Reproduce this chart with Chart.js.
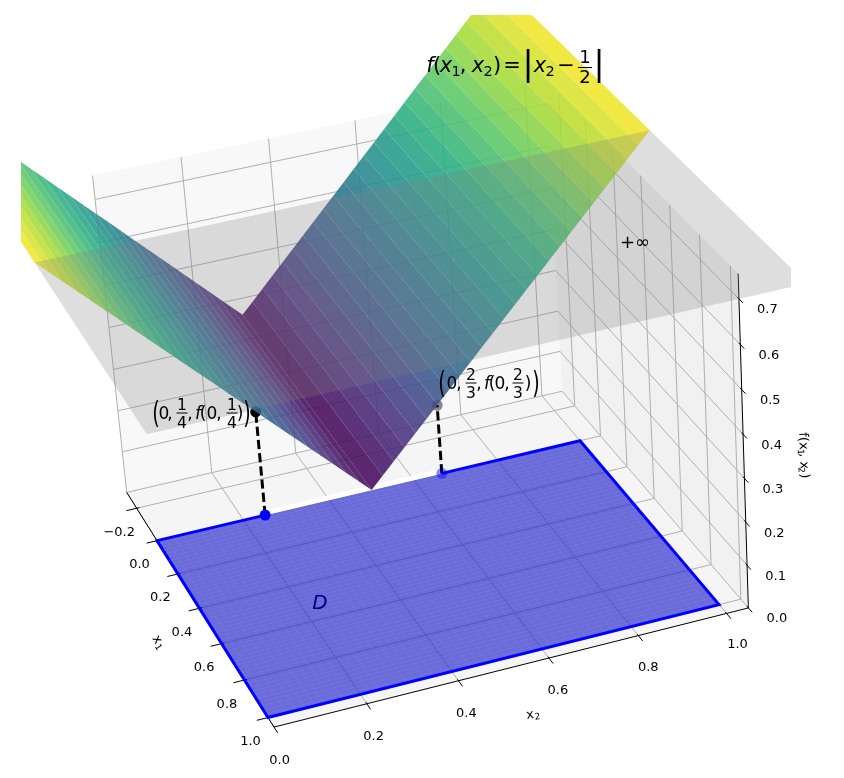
<!DOCTYPE html>
<html>
<head>
<meta charset="utf-8">
<style>
  html, body { margin: 0; padding: 0; background: #fff; }
  canvas { display: block; }
</style>
<script src="https://cdn.jsdelivr.net/npm/chart.js@4/dist/chart.umd.js"></script>
</head>
<body>
<canvas id="chart" width="844" height="778"></canvas>
<script>
// axis ticks
var x1Ticks = [-0.2, 0, 0.2, 0.4, 0.6, 0.8, 1];
var x2Ticks = [0, 0.2, 0.4, 0.6, 0.8, 1];
var zTicks = [0, 0.1, 0.2, 0.3, 0.4, 0.5, 0.6, 0.7];
var x1TickLabels = ['\u22120.2', '0.0', '0.2', '0.4', '0.6', '0.8', '1.0'];
var x2TickLabels = ['0.0', '0.2', '0.4', '0.6', '0.8', '1.0'];
var zTickLabels = ['0.0', '0.1', '0.2', '0.3', '0.4', '0.5', '0.6', '0.7'];
var x1Lim = [-0.3, 1.05];
var x2Lim = [0, 1.05];
var zLim = [0, 0.755];

// surface f(x1,x2), read along x2, spanning x1 from -1.2 to 0
var surfaceX1 = [-1.2, -1.176, -1.152, -1.128, -1.104, -1.08, -1.056, -1.032, -1.008, -0.984, -0.96, -0.936, -0.912, -0.888, -0.864, -0.84, -0.816, -0.792, -0.768, -0.744, -0.72, -0.696, -0.672, -0.648, -0.624, -0.6, -0.576, -0.552, -0.528, -0.504, -0.48, -0.456, -0.432, -0.408, -0.384, -0.36, -0.336, -0.312, -0.288, -0.264, -0.24, -0.216, -0.192, -0.168, -0.144, -0.12, -0.096, -0.072, -0.048, -0.024, 0];
var surfaceX2 = [-0.2, -0.172, -0.144, -0.116, -0.088, -0.06, -0.032, -0.004, 0.024, 0.052, 0.08, 0.108, 0.136, 0.164, 0.192, 0.22, 0.248, 0.276, 0.304, 0.332, 0.36, 0.388, 0.416, 0.444, 0.472, 0.5, 0.528, 0.556, 0.584, 0.612, 0.64, 0.668, 0.696, 0.724, 0.752, 0.78, 0.808, 0.836, 0.864, 0.892, 0.92, 0.948, 0.976, 1.004, 1.032, 1.06, 1.088, 1.116, 1.144, 1.172, 1.2];
var surfaceZ = [0.7, 0.672, 0.644, 0.616, 0.588, 0.56, 0.532, 0.504, 0.476, 0.448, 0.42, 0.392, 0.364, 0.336, 0.308, 0.28, 0.252, 0.224, 0.196, 0.168, 0.14, 0.112, 0.084, 0.056, 0.028, 0, 0.028, 0.056, 0.084, 0.112, 0.14, 0.168, 0.196, 0.224, 0.252, 0.28, 0.308, 0.336, 0.364, 0.392, 0.42, 0.448, 0.476, 0.504, 0.532, 0.56, 0.588, 0.616, 0.644, 0.672, 0.7];

// the grey "+inf" plane
var planeX1 = [0, 1.05];
var planeX2 = [-0.2, 1.2];
var planeZ = 0.7;

// domain D on the floor
var domainX1 = [0, 1];
var domainX2 = [0, 1];
var domainMesh = [0, 0.02, 0.04, 0.06, 0.08, 0.1, 0.12, 0.14, 0.16, 0.18, 0.2, 0.22, 0.24, 0.26, 0.28, 0.3, 0.32, 0.34, 0.36, 0.38, 0.4, 0.42, 0.44, 0.46, 0.48, 0.5, 0.52, 0.54, 0.56, 0.58, 0.6, 0.62, 0.64, 0.66, 0.68, 0.7, 0.72, 0.74, 0.76, 0.78, 0.8, 0.82, 0.84, 0.86, 0.88, 0.9, 0.92, 0.94, 0.96, 0.98, 1];

// the two marked points
var markX2 = [0.25, 0.6667];
var markZ = [0.25, 0.1667];

var viridis = [[68,1,84],[71,45,123],[59,82,139],[44,114,142],[33,145,140],[40,174,128],[94,201,98],[173,220,48],[253,231,37]];

// camera fitted on the picture: (x1, x2, z, 1) -> screen
var camX = [91.88, 440.46, -51.08, 157];
var camY = [125.76, -86.73, -438.1, 541];
var camW = [-0.07136, 0.0301, -0.05167, 1];

function project(x1, x2, z) {
    var w = camW[0]*x1 + camW[1]*x2 + camW[2]*z + camW[3];
    return {
        x: (camX[0]*x1 + camX[1]*x2 + camX[2]*z + camX[3]) / w,
        y: (camY[0]*x1 + camY[1]*x2 + camY[2]*z + camY[3]) / w
    };
}

function viridisAt(t, alpha) {
    var p = Math.max(0, Math.min(1, t)) * (viridis.length - 1);
    var i = Math.min(viridis.length - 2, Math.floor(p));
    var f = p - i;
    var c = [0, 1, 2].map(function(k) { return Math.round(viridis[i][k] + (viridis[i+1][k] - viridis[i][k]) * f); });
    return 'rgba(' + c[0] + ',' + c[1] + ',' + c[2] + ',' + alpha + ')';
}

var datasets = [];

function polygon(corners, color) {
    datasets.push({
        data: corners.map(function(c) { return project(c[0], c[1], c[2]); }),
        showLine: true, fill: 'shape', backgroundColor: color,
        borderWidth: 0, borderColor: 'rgba(0,0,0,0)', pointRadius: 0
    });
}
function line(pts, color, width, dash) {
    datasets.push({
        data: pts.map(function(c) { return project(c[0], c[1], c[2]); }),
        showLine: true, fill: false, borderColor: color, borderWidth: width,
        borderDash: dash || [], borderCapStyle: 'butt', pointRadius: 0
    });
}
function dot(pt, color) {
    datasets.push({
        data: [project(pt[0], pt[1], pt[2])],
        showLine: false, pointRadius: 5.5, pointBorderWidth: 0, pointBackgroundColor: color
    });
}

// panes
polygon([[x1Lim[0],x2Lim[0],0],[x1Lim[0],x2Lim[1],0],[x1Lim[0],x2Lim[1],zLim[1]],[x1Lim[0],x2Lim[0],zLim[1]]], 'rgb(248,248,248)');
polygon([[x1Lim[0],x2Lim[1],0],[x1Lim[1],x2Lim[1],0],[x1Lim[1],x2Lim[1],zLim[1]],[x1Lim[0],x2Lim[1],zLim[1]]], 'rgb(241,241,241)');
polygon([[x1Lim[0],x2Lim[0],0],[x1Lim[1],x2Lim[0],0],[x1Lim[1],x2Lim[1],0],[x1Lim[0],x2Lim[1],0]], 'rgb(245,245,245)');

// grid
var gridColor = 'rgb(176,176,176)';
x1Ticks.forEach(function(v) {
    line([[v,x2Lim[0],0],[v,x2Lim[1],0],[v,x2Lim[1],zLim[1]]], gridColor, 1);
});
x2Ticks.forEach(function(v) {
    line([[x1Lim[1],v,0],[x1Lim[0],v,0],[x1Lim[0],v,zLim[1]]], gridColor, 1);
});
zTicks.forEach(function(v) {
    line([[x1Lim[0],x2Lim[0],v],[x1Lim[0],x2Lim[1],v],[x1Lim[1],x2Lim[1],v]], gridColor, 1);
});

// axis lines and tick marks
line([[x1Lim[0],x2Lim[0],0],[x1Lim[1],x2Lim[0],0],[x1Lim[1],x2Lim[1],0],[x1Lim[1],x2Lim[1],zLim[1]]], '#000', 1);
x1Ticks.forEach(function(v) { line([[v,-0.024,0],[v,0.006,0]], '#000', 1); });
x2Ticks.forEach(function(v) { line([[1.042,v,0],[1.08,v,0]], '#000', 1); });
zTicks.forEach(function(v) { line([[1.04,x2Lim[1],v],[1.075,x2Lim[1],v]], '#000', 1); });

// domain D
polygon([[domainX1[0],domainX2[0],0],[domainX1[1],domainX2[0],0],[domainX1[1],domainX2[1],0],[domainX1[0],domainX2[1],0]], 'rgba(0,0,195,0.57)');
domainMesh.forEach(function(v) {
    line([[v,0,0],[v,1,0]], 'rgba(255,255,255,0.1)', 0.6);
    line([[0,v,0],[1,v,0]], 'rgba(255,255,255,0.1)', 0.6);
});
line([[-0.012,markX2[0],0],[-0.012,markX2[1],0]], '#fff', 5);
line([[0,markX2[0],0],[0,0,0],[1,0,0],[1,1,0],[0,1,0],[0,markX2[1],0]], 'rgb(0,0,255)', 3);

// drop lines and points
line([[0,markX2[0],0],[0,markX2[0],markZ[0]]], '#000', 3, [9.25,4]);
line([[0,markX2[1],0],[0,markX2[1],markZ[1]]], '#000', 3, [9.25,4]);
dot([0,markX2[0],0], 'rgb(0,0,255)');
dot([0,markX2[1],0], 'rgba(0,0,255,0.45)');
dot([0,markX2[0],markZ[0]], '#000');
dot([0,markX2[1],markZ[1]], 'rgba(0,0,0,0.45)');

// surface, one polygon per band
for (var i = 0; i < surfaceX2.length - 1; i++) {
    polygon([
        [surfaceX1[0], surfaceX2[i], surfaceZ[i]],
        [surfaceX1[surfaceX1.length-1], surfaceX2[i], surfaceZ[i]],
        [surfaceX1[surfaceX1.length-1], surfaceX2[i+1], surfaceZ[i+1]],
        [surfaceX1[0], surfaceX2[i+1], surfaceZ[i+1]]
    ], viridisAt((surfaceZ[i] + surfaceZ[i+1]) / 2 / 0.7, 0.87));
}
surfaceX1.forEach(function(v) {
    line(surfaceX2.map(function(x2, k) { return [v, x2, surfaceZ[k]]; }), 'rgba(255,255,255,0.05)', 0.6);
});

// grey plane, over everything below it
polygon([[planeX1[0],planeX2[0],planeZ],[planeX1[1],planeX2[0],planeZ],[planeX1[1],planeX2[1],planeZ],[planeX1[0],planeX2[1],planeZ]], 'rgba(128,128,128,0.26)');

// first dataset ends up on top in chart.js, so flip
datasets.reverse();

var SANS = '"DejaVu Sans"';
function put(ctx, txt, x, y, size, italic, align) {
    ctx.font = (italic ? 'italic ' : '') + size + 'px ' + SANS;
    ctx.textAlign = align || 'center';
    ctx.fillText(txt, x, y);
}
function frac(ctx, num, den, cx, barY, size, w, gapUp, gapDown) {
    put(ctx, num, cx, barY - gapUp, size);
    put(ctx, den, cx, barY + gapDown, size);
    ctx.fillRect(cx - w / 2, barY - 0.5, w, 1);
}

var textPlugin = {
    id: 'labels3d',
    afterDraw: function(chart) {
        var ctx = chart.ctx, sx = chart.scales.x, sy = chart.scales.y;
        function pos(x1, x2, z) {
            var p = project(x1, x2, z);
            return { x: sx.getPixelForValue(p.x), y: sy.getPixelForValue(p.y) };
        }
        ctx.save();
        ctx.fillStyle = '#000';
        ctx.textBaseline = 'alphabetic';
        x1Ticks.forEach(function(v, i) {
            var p = pos(v, 0, 0);
            put(ctx, x1TickLabels[i], p.x - 17.5, p.y + 27.5, 13);
        });
        x2Ticks.forEach(function(v, i) {
            var p = pos(1.2, v - 0.03, 0);
            put(ctx, x2TickLabels[i], p.x + 1.5, p.y + 4.5, 13);
        });
        zTicks.forEach(function(v, i) {
            var p = pos(x1Lim[1], x2Lim[1], v);
            put(ctx, zTickLabels[i], p.x + 28.5, p.y + 14.5, 13);
        });

        // axis titles
        function rotated(x, y, deg, draw) {
            ctx.save(); ctx.translate(x, y); ctx.rotate(deg * Math.PI / 180); draw(); ctx.restore();
        }
        rotated(159, 642, 58, function() {
            put(ctx, 'x', -3, 4, 13); put(ctx, '1', 4, 6, 9);
        });
        rotated(533, 714, -8, function() {
            put(ctx, 'x', -3, 4, 13); put(ctx, '2', 4, 6, 9);
        });
        rotated(804, 455, 88, function() {
            put(ctx, 'f(x', -14, 4, 13); put(ctx, '1', -3, 6, 9);
            put(ctx, ', x', 6, 4, 13); put(ctx, '2', 15, 6, 9); put(ctx, ')', 21, 4, 13);
        });

        // title
        put(ctx, 'f', 430, 72, 21, true);
        put(ctx, '(', 437, 72, 21);
        put(ctx, 'x', 446, 72, 21, true);
        put(ctx, '1', 456, 76, 14.5);
        put(ctx, ',', 463, 72, 21);
        put(ctx, 'x', 478, 72, 21, true);
        put(ctx, '2', 488, 76, 14.5);
        put(ctx, ')', 497, 72, 21);
        put(ctx, '=', 512, 72, 21);
        put(ctx, '|', 528, 75, 33);
        put(ctx, 'x', 540, 72, 21, true);
        put(ctx, '2', 550, 76, 14.5);
        put(ctx, '\u2212', 566, 72, 21);
        frac(ctx, '1', '2', 585, 67.5, 18, 14, 4.5, 15.5);
        put(ctx, '|', 599, 75, 33);

        // plus infinity and D
        put(ctx, '+\u221e', 635, 248, 18);
        ctx.fillStyle = '#00008b';
        put(ctx, 'D', 320, 609, 20, true);
        ctx.fillStyle = '#000';

        // point labels
        function bigParen(x, y, ch) {
            ctx.save();
            ctx.translate(x, y);
            ctx.scale(0.62, 1);
            put(ctx, ch, 0, 9.7, 31);
            ctx.restore();
        }
        function pointLabel(num, den, y, xs) {
            var base = y + 5.5, s = 17;
            bigParen(xs[0], y, '(');
            put(ctx, '0', xs[1], base, s);
            put(ctx, ',', xs[2], base, s);
            frac(ctx, num, den, xs[3], y, 15.5, 11, 3, 14.5);
            put(ctx, ',', xs[4], base, s);
            put(ctx, 'f', xs[5], base, s, true);
            put(ctx, '(', xs[6], base, s);
            put(ctx, '0', xs[7], base, s);
            put(ctx, ',', xs[8], base, s);
            frac(ctx, num, den, xs[9], y, 15.5, 11, 3, 14.5);
            put(ctx, ')', xs[10], base, s);
            bigParen(xs[11], y, ')');
        }
        pointLabel('1', '4', 413, [156, 164, 170, 182, 190, 198, 203, 212, 219, 232, 240, 247]);
        pointLabel('2', '3', 383, [442, 452, 459, 471, 479, 487, 492, 500, 507, 518, 528, 536]);
        ctx.restore();
    }
};

new Chart(document.getElementById('chart'), {
    type: 'scatter',
    data: { datasets: datasets },
    options: {
        responsive: false,
        animation: false,
        events: [],
        layout: { padding: { left: 21, top: 15, right: 53, bottom: 0 } },
        plugins: { legend: { display: false }, tooltip: { enabled: false } },
        scales: {
            x: { type: 'linear', display: false, min: 21, max: 791 },
            y: { type: 'linear', display: false, min: 15, max: 773, reverse: true }
        }
    },
    plugins: [textPlugin]
});
</script>
</body>
</html>
